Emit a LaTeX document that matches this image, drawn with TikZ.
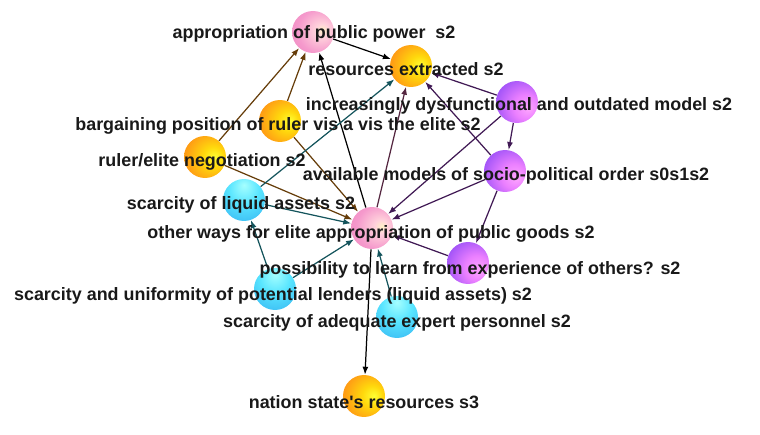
\documentclass[tikz,border=0pt]{standalone}
\usepackage{fontspec}
\setmainfont{Liberation Sans}
\usetikzlibrary{shapes, arrows.meta, shadows, calc, positioning}
\definecolor{edgebrown}{rgb}{0.40, 0.24, 0.04}
\definecolor{edgeteal}{rgb}{0.08, 0.33, 0.36}
\definecolor{edgepurple}{rgb}{0.25, 0.10, 0.33}
\definecolor{edgemaroon}{rgb}{0.33, 0.15, 0.25}
\definecolor{labelgrey}{rgb}{0.10, 0.10, 0.10}
\pgfdeclareradialshading{pinkball}{\pgfpoint{12bp}{2bp}}{%
  rgb(0bp)=(1,0.95,0.78); rgb(8bp)=(1,0.82,0.86); rgb(26bp)=(0.96,0.60,0.80);
  rgb(50bp)=(0.93,0.50,0.72); rgb(70bp)=(0.90,0.45,0.65)}
\pgfdeclareradialshading{orangeball}{\pgfpoint{12bp}{0bp}}{%
  rgb(0bp)=(1,1,0.2); rgb(12bp)=(1,0.85,0.05); rgb(30bp)=(1,0.62,0.08);
  rgb(52bp)=(0.95,0.50,0.02); rgb(70bp)=(0.90,0.45,0.02)}
\pgfdeclareradialshading{purpleball}{\pgfpoint{14bp}{-8bp}}{%
  rgb(0bp)=(1,0.65,1); rgb(15bp)=(0.92,0.50,1); rgb(35bp)=(0.62,0.32,0.97);
  rgb(55bp)=(0.50,0.22,0.92); rgb(70bp)=(0.45,0.18,0.85)}
\pgfdeclareradialshading{cyanball}{\pgfpoint{0bp}{18bp}}{%
  rgb(0bp)=(0.65,1,1); rgb(18bp)=(0.35,0.90,1); rgb(40bp)=(0.22,0.72,0.95);
  rgb(60bp)=(0.18,0.58,0.88); rgb(70bp)=(0.15,0.52,0.85)}
\tikzset{sphere/.style={circle, minimum size=0.84cm, inner sep=0pt}}
\tikzset{pinksphere/.style={sphere, shading=pinkball}}
\tikzset{orangesphere/.style={sphere, shading=orangeball}}
\tikzset{purplesphere/.style={sphere, shading=purpleball}}
\tikzset{cyansphere/.style={sphere, shading=cyanball}}
\tikzset{lbl/.style={text=labelgrey, font=\fontsize{10.2}{12}\selectfont\bfseries, inner sep=0pt, yshift=-1.6pt}}
\tikzset{edge/.style={line width=0.7pt, -{Latex[length=4.5pt, width=3.4pt]}}}

\begin{document}
\begin{tikzpicture}[x=0.02cm, y=-0.02cm]
        \useasboundingbox (0, 0) rectangle (760, 435);
        \begin{scope}
            \node[pinksphere] (Npower) at (313, 32) {};
            \node[orangesphere] (Nres) at (411, 66) {};
            \node[purplesphere] (Ndysf) at (517, 102) {};
            \node[orangesphere] (Nbarg) at (280, 121) {};
            \node[purplesphere] (Nmodels) at (505, 171) {};
            \node[orangesphere] (Nneg) at (205, 157) {};
            \node[cyansphere] (Nliquid) at (244, 200) {};
            \node[pinksphere] (Nother) at (372, 228) {};
            \node[purplesphere] (Nlearn) at (468, 263) {};
            \node[cyansphere] (Nlenders) at (275, 289) {};
            \node[cyansphere] (Nexpert) at (397, 317) {};
            \node[orangesphere] (Nnation) at (364, 396) {};

            \draw [edge, black] (Npower) -- (Nres);
            \draw [edge, black] (Nother) -- (Npower);
            \draw [edge, black] (Nother) -- (Nnation);
            \draw [edge, edgemaroon] (Nother) -- (Nres);

            \draw [edge, edgebrown] (Nbarg) -- (Npower);
            \draw [edge, edgebrown] (Nneg) -- (Npower);
            \draw [edge, edgebrown] (Nbarg) -- (Nother);
            \draw [edge, edgebrown] (Nneg) -- (Nother);

            \draw [edge, edgeteal] (Nliquid) -- (Nres);
            \draw [edge, edgeteal] (Nliquid) -- (Nother);
            \draw [edge, edgeteal] (Nlenders) -- (Nliquid);
            \draw [edge, edgeteal] (Nlenders) -- (Nother);
            \draw [edge, edgeteal] (Nexpert) -- (Nother);

            \draw [edge, edgepurple] (Ndysf) -- (Nres);
            \draw [edge, edgepurple] (Nmodels) -- (Nres);
            \draw [edge, edgepurple] (Ndysf) -- (Nmodels);
            \draw [edge, edgepurple] (Ndysf) -- (Nother);
            \draw [edge, edgepurple] (Nmodels) -- (Nother);
            \draw [edge, edgepurple] (Nmodels) -- (Nlearn);
            \draw [edge, edgepurple] (Nlearn) -- (Nother);

            % labels on top of the spheres
            \node[lbl] (Lpower) at (314, 31) {appropriation of public power~~s2};
            \node[lbl] (Lres) at (406, 66) {resources extracted s2};
            \node[lbl] (Ldysf) at (519, 103) {increasingly dysfunctional and outdated model s2};
            \node[lbl] (Lbarg) at (278, 123) {bargaining position of ruler vis a vis the elite s2};
            \node[lbl] (Lmodels) at (506, 173) {available models of socio-political order s0s1s2};
            \node[lbl] (Lneg) at (202, 159) {ruler/elite negotiation s2};
            \node[lbl] (Lliquid) at (241, 202) {scarcity of liquid assets s2};
            \node[lbl] (Lother) at (371, 231) {other ways for elite appropriation of public goods s2};
            \node[lbl] (Llearn) at (470, 267) {possibility to learn from experience of others? s2};
            \node[lbl] (Llenders) at (273, 293) {scarcity and uniformity of potential lenders (liquid assets) s2};
            \node[lbl] (Lexpert) at (397, 320) {scarcity of adequate expert personnel s2};
            \node[lbl] (Lnation) at (364, 399) {nation state\textquotesingle s resources s3};
        \end{scope}
    \end{tikzpicture}
\end{document}
